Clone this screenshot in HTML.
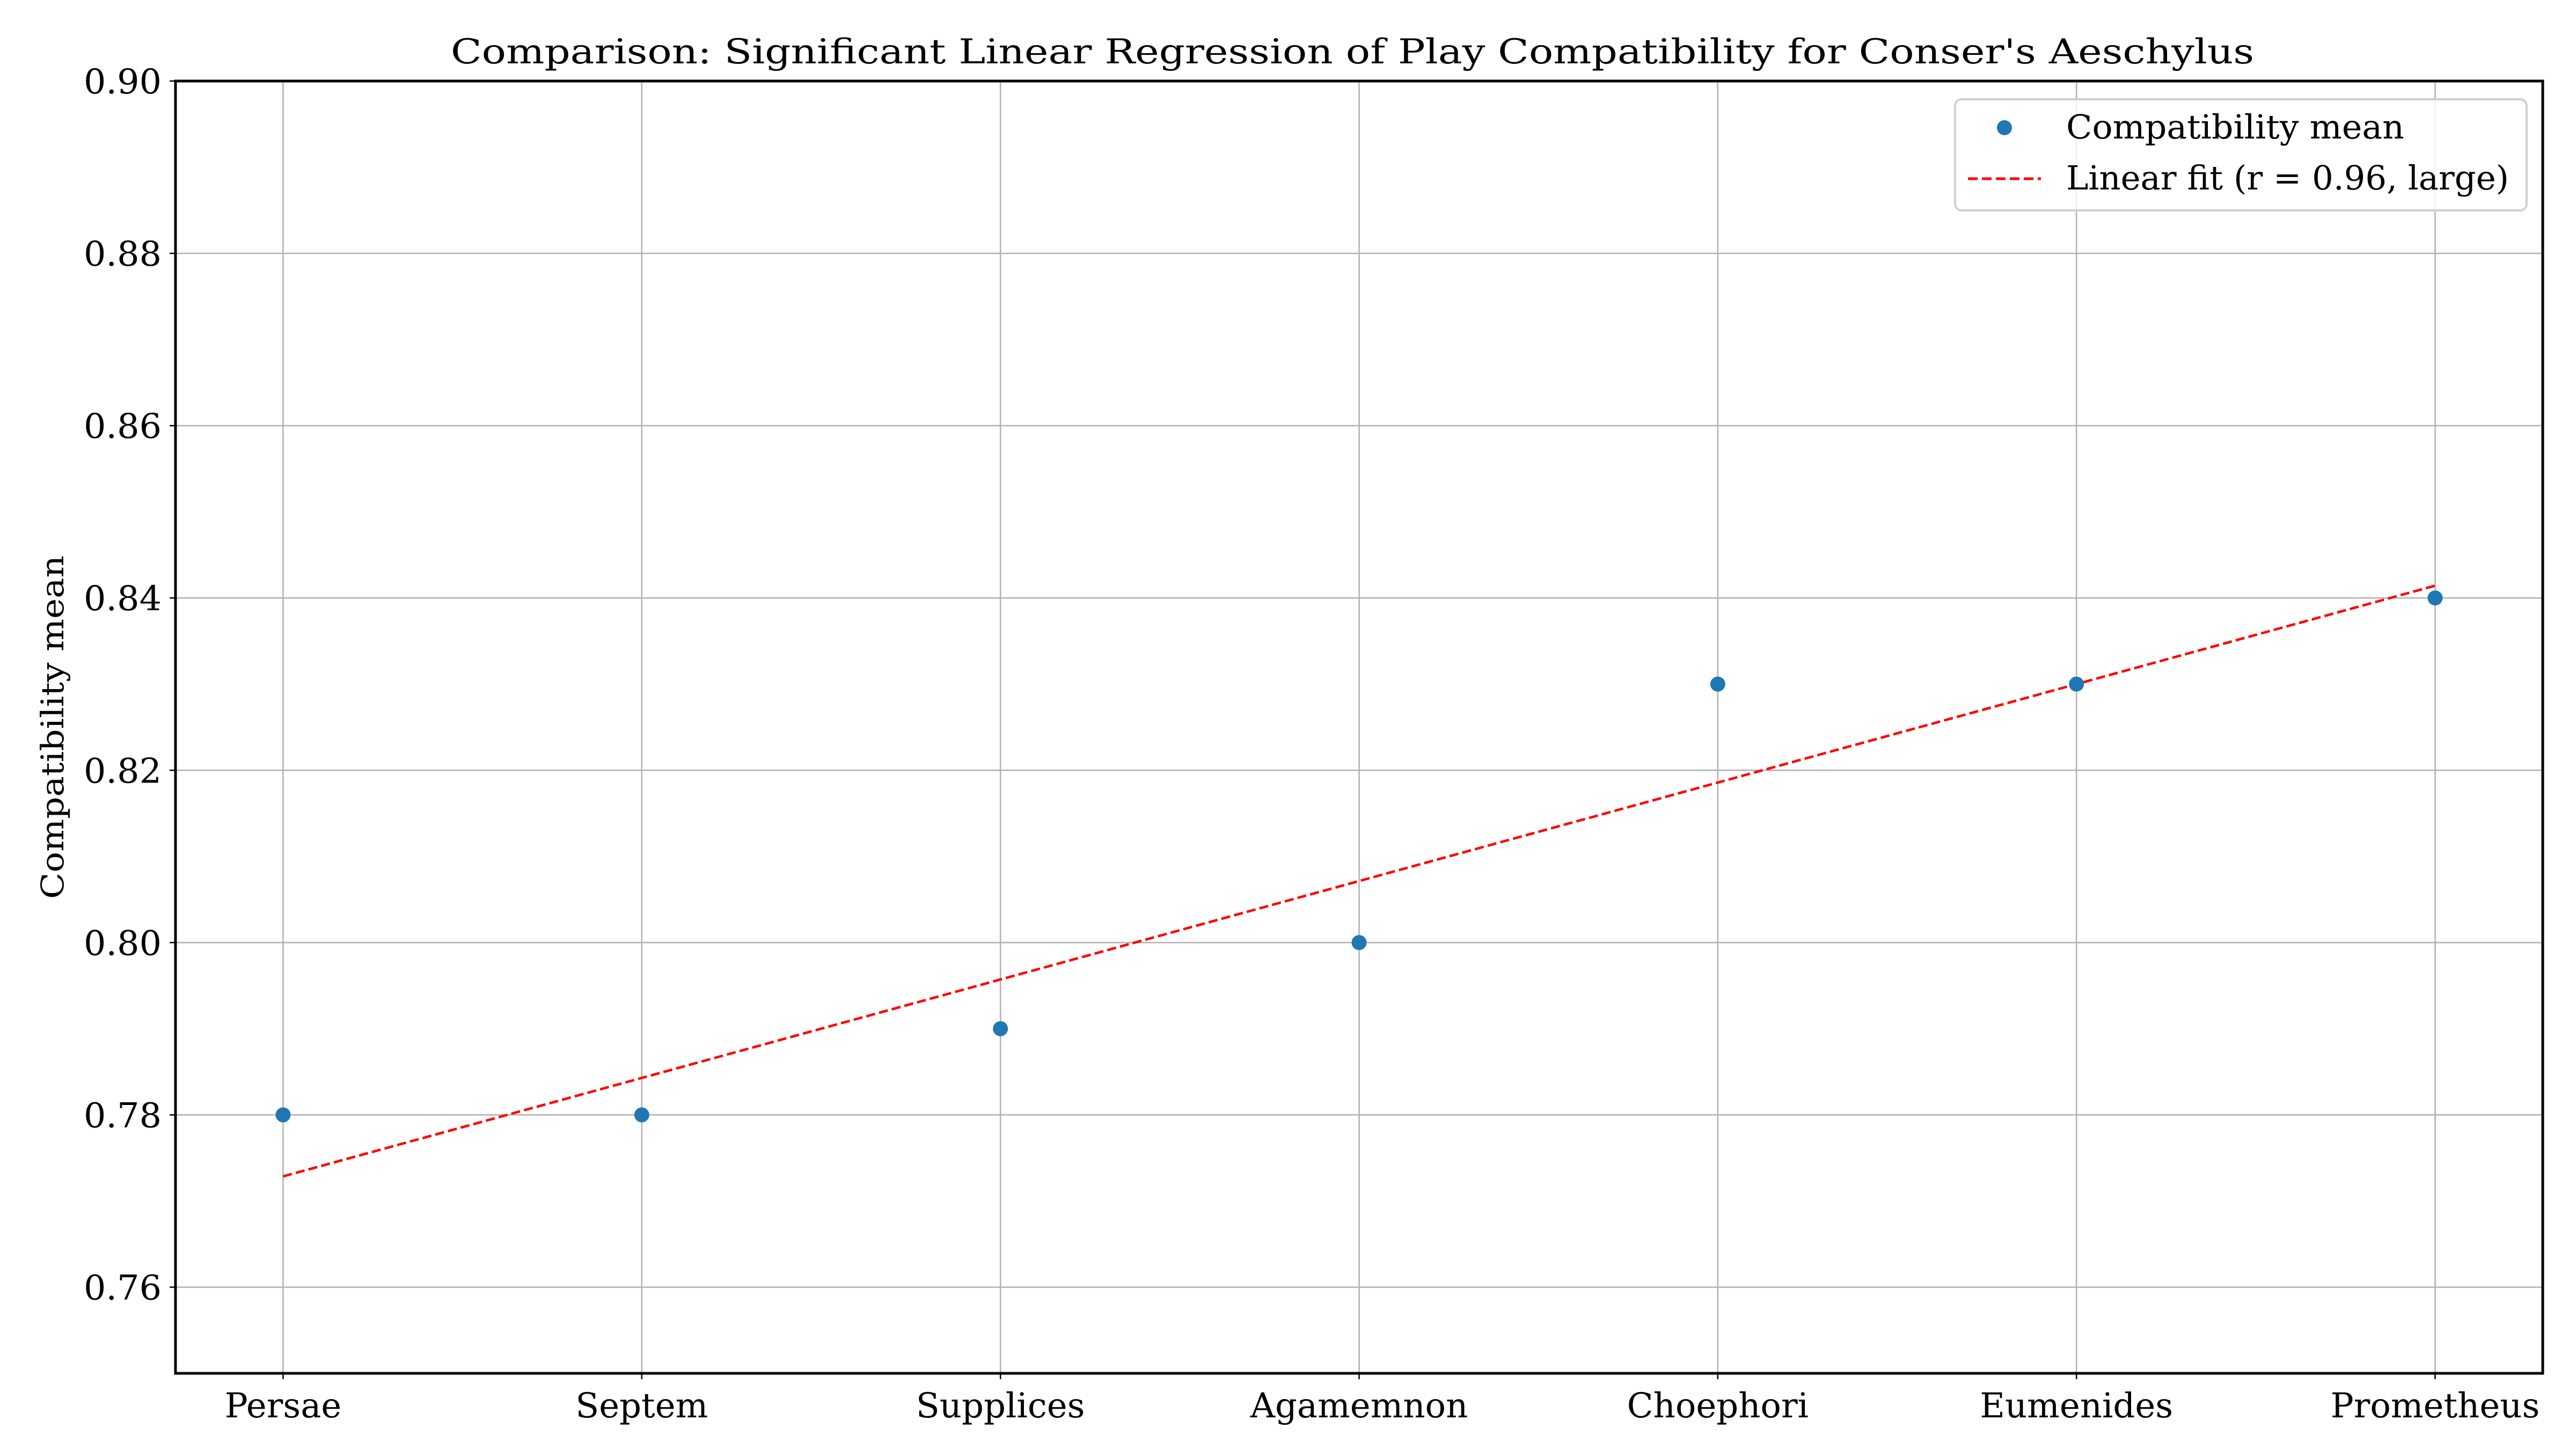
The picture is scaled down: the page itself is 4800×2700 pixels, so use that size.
<!DOCTYPE html>
<html><head><meta charset="utf-8"><style>
html,body{margin:0;padding:0;background:#fff;}
svg{display:block;font-family:"DejaVu Serif","Liberation Serif",serif;}
</style></head><body>
<svg id="chart" width="4800" height="2700" viewBox="0 0 4800 2700" xmlns="http://www.w3.org/2000/svg">
<rect width="4800" height="2700" fill="#fff"/>
<g id="grid"></g>
<g id="fit"></g>
<g id="points"></g>
<rect x="327" y="151" width="4411" height="2408" fill="none" stroke="#000" stroke-width="5"/>
<g id="yticks"></g>
<g id="xticks"></g>
<text x="2520" y="118" font-size="64" text-anchor="middle" textLength="3360" lengthAdjust="spacingAndGlyphs">Comparison: Significant Linear Regression of Play Compatibility for Conser's Aeschylus</text>
<text transform="translate(118,1355) rotate(-90)" font-size="58" text-anchor="middle" textLength="640" lengthAdjust="spacingAndGlyphs">Compatibility mean</text>
<g>
<rect x="3643" y="185" width="1065" height="207" rx="12" fill="#fff" fill-opacity="0.8" stroke="#d0d0d0" stroke-width="4"/>
<circle cx="3735" cy="238" r="14" fill="#1f77b4"/>
<text x="3850" y="258" font-size="62" textLength="630" lengthAdjust="spacingAndGlyphs">Compatibility mean</text>
<line x1="3667" y1="333" x2="3803" y2="333" stroke="#ff0000" stroke-width="5" stroke-dasharray="18 8"/>
<text x="3850" y="353" font-size="62" textLength="825" lengthAdjust="spacingAndGlyphs">Linear fit (r = 0.96, large)</text>
</g>
</svg>
<script>
const categories = ["Persae","Septem","Supplices","Agamemnon","Choephori","Eumenides","Prometheus"];
const meanValues = [0.78,0.78,0.79,0.80,0.83,0.83,0.84];
const yTicks = [0.76,0.78,0.80,0.82,0.84,0.86,0.88,0.90];
const yTickLabels = ["0.76","0.78","0.80","0.82","0.84","0.86","0.88","0.90"];

const NS="http://www.w3.org/2000/svg";
const L=327,R=4738,T=151,B=2559;
const yMin=0.75,yMax=0.90;
const xMin=-0.3,xMax=categories.length-1+0.3;
function xs(i){return L+(i-xMin)/(xMax-xMin)*(R-L);}
function ys(v){return B-(v-yMin)/(yMax-yMin)*(B-T);}
function mk(tag,attrs,parent){const e=document.createElementNS(NS,tag);for(const k in attrs)e.setAttribute(k,attrs[k]);parent.appendChild(e);return e;}
const grid=document.getElementById('grid'),yg=document.getElementById('yticks'),xg=document.getElementById('xticks');
yTicks.forEach((v,i)=>{
  const y=ys(v);
  const g=mk('line',{x1:L,x2:R,y1:y,y2:y,stroke:'#b0b0b0','stroke-width':2.5},grid);
  
  
  const t=mk('line',{x1:L-11,x2:L,y1:y,y2:y,stroke:'#000','stroke-width':2.5},yg);
  
  
  const tx=mk('text',{x:L-26,y:y+23,'font-size':64,'text-anchor':'end',textLength:145,lengthAdjust:'spacingAndGlyphs'},yg);
  tx.textContent=yTickLabels[i];
  
  
});
categories.forEach((c,i)=>{
  const x=xs(i);
  const g=mk('line',{x1:x,x2:x,y1:T,y2:B,stroke:'#b0b0b0','stroke-width':2.5},grid);
  
  
  const t=mk('line',{x1:x,x2:x,y1:B,y2:B+11,stroke:'#000','stroke-width':2.5},xg);
  
  
  const tx=mk('text',{x:x,y:B+82,'font-size':64,'text-anchor':'middle'},xg);
  tx.textContent=c;
  
  
});
const n=meanValues.length;
const mx=(n-1)/2, my=meanValues.reduce((a,b)=>a+b,0)/n;
let sxy=0,sxx=0;meanValues.forEach((v,i)=>{sxy+=(i-mx)*(v-my);sxx+=(i-mx)*(i-mx);});
const slope=sxy/sxx, icpt=my-slope*mx;
const fl=mk('line',{x1:xs(0),y1:ys(icpt),x2:xs(n-1),y2:ys(icpt+slope*(n-1)),stroke:'#ff0000','stroke-width':4.6,'stroke-dasharray':'17 7.5'},document.getElementById('fit'));


const pg=document.getElementById('points');
meanValues.forEach((v,i)=>{
  const p=mk('circle',{cx:xs(i),cy:ys(v),r:14,fill:'#1f77b4'},pg);
  
  
});
</script>
</body></html>
